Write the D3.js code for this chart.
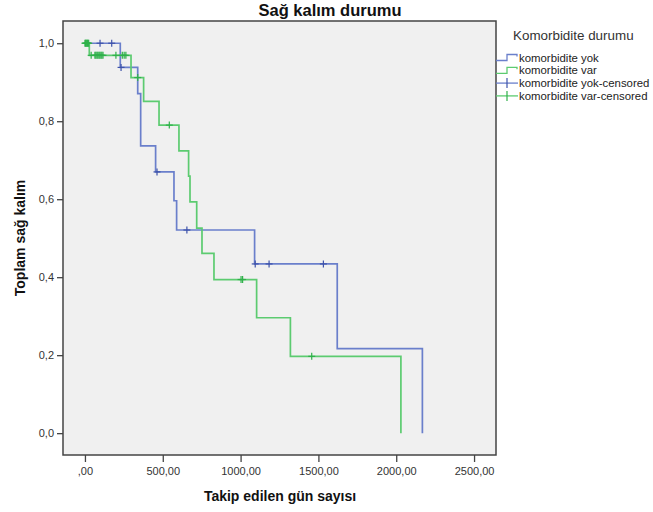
<!DOCTYPE html>
<html>
<head>
<meta charset="utf-8">
<script src="https://cdn.jsdelivr.net/npm/d3@7"></script>
<style>
  body { margin: 0; background: #fff; }
  text { font-family: Arial, "Liberation Sans", sans-serif; }
</style>
</head>
<body>
<div id="chart"></div>
<script>
// komorbidite yok (blue): event times and survival after each step
var yokTimes = [0, 227, 339, 358, 454, 572, 589, 1090, 1621, 2168];
var yokSurv  = [1, 0.938, 0.871, 0.737, 0.670, 0.596, 0.521, 0.434, 0.217, 0];
var yokCensored = [97, 172, 232, 463, 655, 1094, 1183, 1532];

// komorbidite var (green)
var varTimes = [0, 28, 296, 377, 476, 604, 666, 675, 718, 752, 829, 1103, 1320, 2030];
var varSurv  = [1, 0.969, 0.912, 0.851, 0.790, 0.724, 0.659, 0.593, 0.526, 0.461, 0.394, 0.296, 0.197, 0];
var varCensored = [0, 4, 8, 12, 16, 20, 24, 40, 64, 70, 77, 83, 90, 96, 103, 109, 116,
                   199, 240, 252, 263, 339, 542, 1003, 1013, 1457];

var xTicks = [0, 500, 1000, 1500, 2000, 2500];
var yTicks = [0, 0.2, 0.4, 0.6, 0.8, 1.0];

var legendLabels = ["komorbidite yok", "komorbidite var", "komorbidite yok-censored", "komorbidite var-censored"];

var W = 653, H = 512;
var plot = { left: 63, right: 496, top: 21, bottom: 455 };

var svg = d3.select("#chart").append("svg")
    .attr("width", W)
    .attr("height", H);

svg.append("rect").attr("width", W).attr("height", H).attr("fill", "#fff");

var x = d3.scaleLinear().domain([-141, 2641]).range([plot.left, plot.right]);
var y = d3.scaleLinear().domain([-0.056, 1.057]).range([plot.bottom, plot.top]);

// plot background
svg.append("rect")
    .attr("x", plot.left).attr("y", plot.top)
    .attr("width", plot.right - plot.left)
    .attr("height", plot.bottom - plot.top)
    .attr("fill", "#f0f0f0");

var series = [
  { times: yokTimes, surv: yokSurv, cens: yokCensored, line: "#6a7fcb", mark: "#3d52aa" },
  { times: varTimes, surv: varSurv, cens: varCensored, line: "#5ccb70", mark: "#2fb14a" }
];

var line = d3.line()
    .x(function(d) { return x(d[0]); })
    .y(function(d) { return y(d[1]); })
    .curve(d3.curveStepAfter);

function survAt(s, t) {
  var v = 1;
  s.times.forEach(function(tt, i) { if (tt <= t) v = s.surv[i]; });
  return v;
}

series.forEach(function(s) {
  var pts = s.times.map(function(t, i) { return [t, s.surv[i]]; });
  svg.append("path")
      .datum(pts)
      .attr("d", line)
      .attr("fill", "none")
      .attr("stroke", s.line)
      .attr("stroke-width", 1.7);
});

series.forEach(function(s) {
  var g = svg.append("g");
  s.cens.forEach(function(t) {
    var cx = x(t), cy = y(survAt(s, t));
    g.append("line").attr("x1", cx - 3.5).attr("x2", cx + 3.5).attr("y1", cy).attr("y2", cy)
        .attr("stroke", s.mark).attr("stroke-width", 1.2);
    g.append("line").attr("x1", cx).attr("x2", cx).attr("y1", cy - 3.5).attr("y2", cy + 3.5)
        .attr("stroke", s.mark).attr("stroke-width", 1.2);
  });
});

// frame
svg.append("rect")
    .attr("x", plot.left).attr("y", plot.top)
    .attr("width", plot.right - plot.left)
    .attr("height", plot.bottom - plot.top)
    .attr("fill", "none")
    .attr("stroke", "#444")
    .attr("stroke-width", 1.5);

// axes
var yAxis = svg.append("g")
    .attr("transform", "translate(" + plot.left + ",0)")
    .call(d3.axisLeft(y).tickValues(yTicks).tickSize(6).tickPadding(3)
      .tickFormat(function(d) { return d3.format(".1f")(d).replace(".", ","); }));

var xAxis = svg.append("g")
    .attr("transform", "translate(0," + plot.bottom + ")")
    .call(d3.axisBottom(x).tickValues(xTicks).tickSize(7).tickPadding(5)
      .tickFormat(function(d) { return d === 0 ? ",00" : d3.format(".2f")(d).replace(".", ","); }));

[yAxis, xAxis].forEach(function(a) {
  a.select(".domain").remove();
  a.selectAll(".tick line").attr("stroke", "#444").attr("stroke-width", 1.3);
  a.selectAll(".tick text").attr("fill", "#333").style("font-size", "11px");
});

// titles
svg.append("text")
    .attr("x", 330).attr("y", 16)
    .attr("text-anchor", "middle")
    .style("font-size", "16.5px").style("font-weight", "bold")
    .attr("fill", "#111")
    .text("Sağ kalım durumu");

svg.append("text")
    .attr("x", 280).attr("y", 501)
    .attr("text-anchor", "middle")
    .style("font-size", "14px").style("font-weight", "bold")
    .attr("fill", "#111")
    .text("Takip edilen gün sayısı");

svg.append("text")
    .attr("transform", "translate(25,238)rotate(-90)")
    .attr("text-anchor", "middle")
    .style("font-size", "14px").style("font-weight", "bold")
    .attr("fill", "#111")
    .text("Toplam sağ kalım");

// legend
svg.append("text")
    .attr("x", 513).attr("y", 40)
    .style("font-size", "13.4px")
    .attr("fill", "#333")
    .text("Komorbidite durumu");

var legend = svg.append("g").attr("transform", "translate(496,0)");
legendLabels.forEach(function(lbl, i) {
  var s = series[i % 2];
  var base = 61.5 + i * 12.8;
  var mid = base - 4;
  if (i < 2) {
    legend.append("path")
        .attr("d", "M0," + (mid + 3) + "H11V" + (mid - 3) + "H21V" + (mid - 1))
        .attr("fill", "none").attr("stroke", s.line).attr("stroke-width", 1.3);
  } else {
    legend.append("line").attr("x1", 0).attr("x2", 22).attr("y1", mid).attr("y2", mid)
        .attr("stroke", s.line).attr("stroke-width", 1.3);
    legend.append("line").attr("x1", 11).attr("x2", 11).attr("y1", mid - 5).attr("y2", mid + 5)
        .attr("stroke", s.mark).attr("stroke-width", 1.2);
  }
  legend.append("text")
      .attr("x", 23).attr("y", base)
      .style("font-size", "11.4px")
      .attr("fill", "#222")
      .text(lbl);
});
</script>
</body>
</html>
